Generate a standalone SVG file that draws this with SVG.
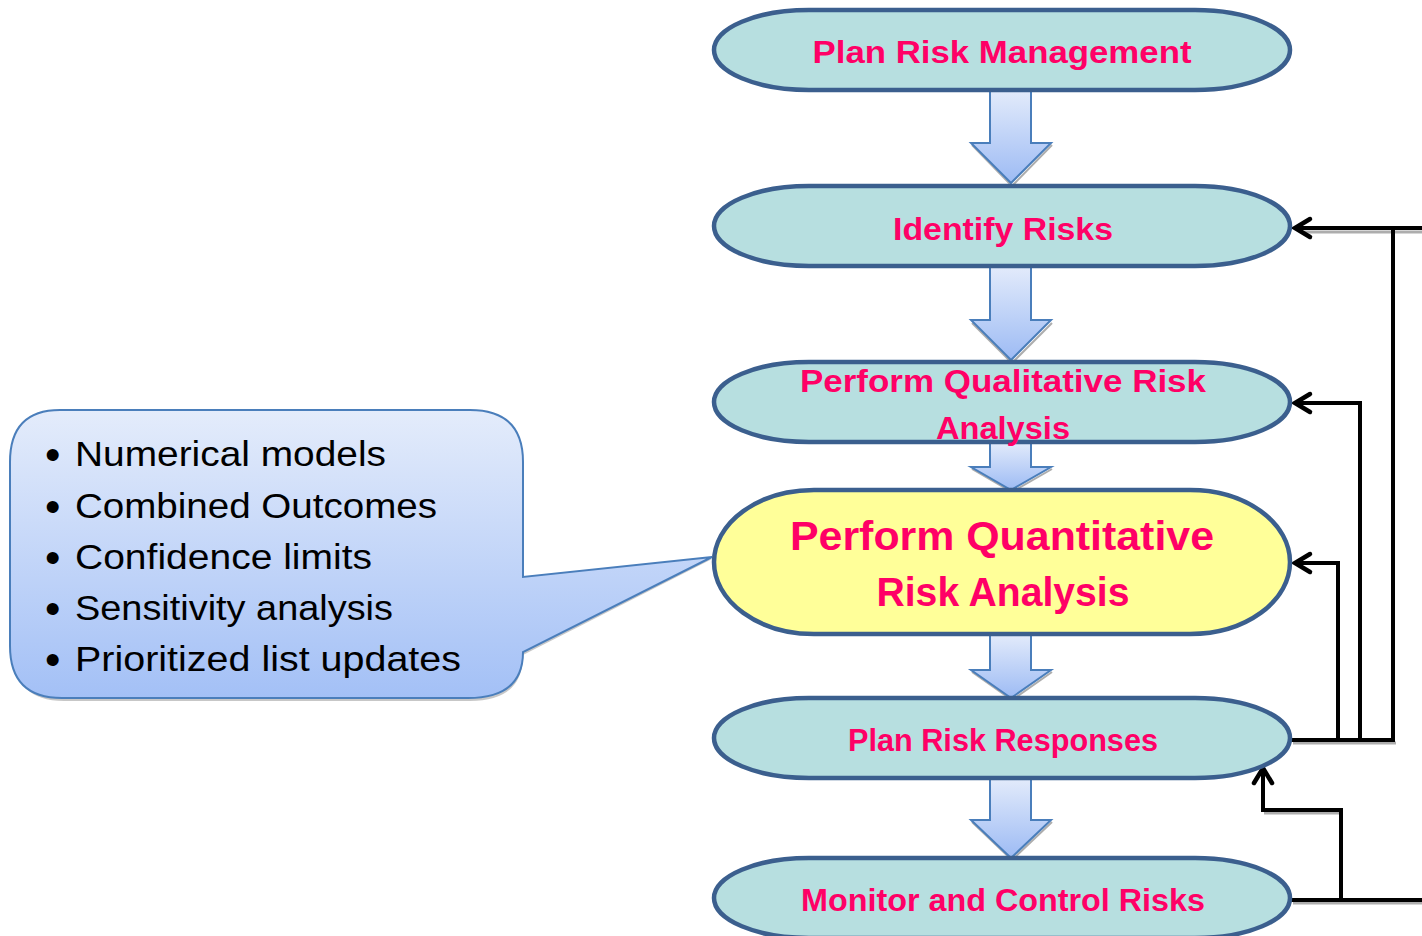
<svg xmlns="http://www.w3.org/2000/svg" width="1422" height="936" viewBox="0 0 1422 936">
<defs>
<linearGradient id="ag" x1="0" y1="0" x2="0" y2="1">
<stop offset="0" stop-color="#E3EBFB"/><stop offset="1" stop-color="#9DBBF4"/>
</linearGradient>
<linearGradient id="cg" x1="0" y1="0" x2="0" y2="1">
<stop offset="0" stop-color="#E4ECFB"/><stop offset="1" stop-color="#A3C0F6"/>
</linearGradient>
<marker id="ah2" viewBox="0 0 24 24" refX="21" refY="12" markerWidth="24" markerHeight="24" markerUnits="userSpaceOnUse" orient="auto" overflow="visible">
<path d="M6,3 L21,12 L6,21" fill="none" stroke="#000" stroke-width="4.5" stroke-linecap="round"/>
</marker>
</defs>
<style>
.node{fill:#B7DFE0;stroke:#3B5F8E;stroke-width:4.5}
.hl{fill:#FFFF99;stroke:#3B5F8E;stroke-width:4.5}
.lbl{font-family:"Liberation Sans",Arial,sans-serif;font-weight:bold;fill:#FF0066;text-anchor:middle}
.ar{fill:url(#ag);stroke:#4A7EBB;stroke-width:2}
.arsh{fill:none;stroke:#777;stroke-width:2;opacity:0.6}
.cn{fill:none;stroke:#000;stroke-width:4}
.sh{fill:none;stroke:#999;stroke-width:3;opacity:0.8}
.bl{font-family:"Liberation Sans",Arial,sans-serif;font-size:35px;fill:#000}
.bu{font-family:"Liberation Sans",Arial,sans-serif;font-size:44px;fill:#000}
</style>
<rect width="1422" height="936" fill="#fff"/>

<g id="callout">
<path d="M62,413 H471 Q523,413 523,465 V580 L712,559 L523,655 Q523,701 470,701 H64 Q13,701 13,650 V465 Q13,413 62,413 Z" fill="#999" opacity="0.55"/>
<path d="M60,410 H470 Q523,410 523,462 V577 L712,557 L523,652 Q523,698 468,698 H62 Q10,698 10,646 V462 Q10,410 60,410 Z" fill="url(#cg)" stroke="#4A7EBB" stroke-width="2"/>
<g class="bu">
<text x="45" y="470">•</text><text x="45" y="522">•</text><text x="45" y="573">•</text><text x="45" y="624">•</text><text x="45" y="675">•</text>
</g>
<g class="bl">
<text x="75" y="466" textLength="311" lengthAdjust="spacingAndGlyphs">Numerical models</text>
<text x="75" y="518" textLength="362" lengthAdjust="spacingAndGlyphs">Combined Outcomes</text>
<text x="75" y="569" textLength="297" lengthAdjust="spacingAndGlyphs">Confidence limits</text>
<text x="75" y="620" textLength="318" lengthAdjust="spacingAndGlyphs">Sensitivity analysis</text>
<text x="75" y="671" textLength="386" lengthAdjust="spacingAndGlyphs">Prioritized list updates</text>
</g>
</g>

<g id="flow-arrows">
<path class="arsh" d="M972,145 L1012,186 L1052,145"/>
<path class="ar" d="M990,90 H1031 V143 H1051 L1011,183 L971,143 H990 Z"/>
<path class="arsh" d="M972,323 L1012,363 L1052,323"/>
<path class="ar" d="M990,266 H1031 V320 H1051 L1011,360 L971,320 H990 Z"/>
<path class="arsh" d="M972,469 L1012,492 L1052,469"/>
<path class="ar" d="M990,442 H1031 V467 H1051 L1011,490 L971,467 H990 Z"/>
<path class="arsh" d="M972,672 L1012,700 L1052,672"/>
<path class="ar" d="M990,634 H1031 V670 H1051 L1011,698 L971,670 H990 Z"/>
<path class="arsh" d="M972,822 L1012,860 L1052,822"/>
<path class="ar" d="M990,778 H1031 V820 H1051 L1011,858 L971,820 H990 Z"/>
</g>

<g id="connectors">
<path class="sh" d="M1300,232 H1422"/>
<path class="sh" d="M1293,743 H1396"/>
<path class="sh" d="M1293,903 H1422"/>
<path class="sh" d="M1264,813 H1340"/>
<path class="cn" d="M1422,228 H1295" marker-end="url(#ah2)"/>
<path class="cn" d="M1291,740 H1393 V228"/>
<path class="cn" d="M1360,740 V403 H1295" marker-end="url(#ah2)"/>
<path class="cn" d="M1338,740 V563 H1295" marker-end="url(#ah2)"/>
<path class="cn" d="M1291,900 H1422"/>
<path class="cn" d="M1341,900 V810 H1263 V768" marker-end="url(#ah2)"/>
</g>

<g id="n1"><rect class="node" x="714" y="10" width="576" height="80" rx="95" ry="40"/><text class="lbl" x="1002" y="63" font-size="31" textLength="379" lengthAdjust="spacingAndGlyphs">Plan Risk Management</text></g>
<g id="n2"><rect class="node" x="714" y="186" width="576" height="80" rx="95" ry="40"/><text class="lbl" x="1003" y="240" font-size="31" textLength="220" lengthAdjust="spacingAndGlyphs">Identify Risks</text></g>
<g id="n3"><rect class="node" x="714" y="362" width="576" height="80" rx="95" ry="40"/><text class="lbl" x="1003" y="392" font-size="31" textLength="406" lengthAdjust="spacingAndGlyphs">Perform Qualitative Risk</text><text class="lbl" x="1003" y="439" font-size="31" textLength="134" lengthAdjust="spacingAndGlyphs">Analysis</text></g>
<g id="n4"><rect class="hl" x="714" y="490" width="576" height="144" rx="100" ry="72"/><text class="lbl" x="1002" y="550" font-size="41" textLength="424" lengthAdjust="spacingAndGlyphs">Perform Quantitative</text><text class="lbl" x="1003" y="606" font-size="41" textLength="253" lengthAdjust="spacingAndGlyphs">Risk Analysis</text></g>
<g id="n5"><rect class="node" x="714" y="698" width="576" height="80" rx="95" ry="40"/><text class="lbl" x="1003" y="751" font-size="31" textLength="310" lengthAdjust="spacingAndGlyphs">Plan Risk Responses</text></g>
<g id="n6"><rect class="node" x="714" y="858" width="576" height="80" rx="95" ry="40"/><text class="lbl" x="1003" y="911" font-size="31" textLength="404" lengthAdjust="spacingAndGlyphs">Monitor and Control Risks</text></g>
</svg>
